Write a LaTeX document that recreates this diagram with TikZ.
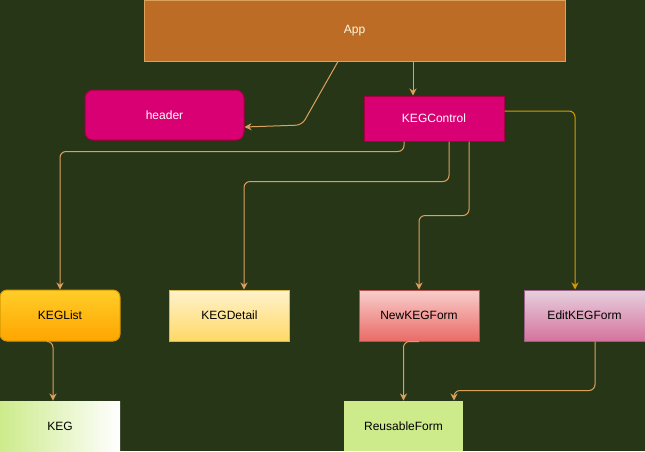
\documentclass[tikz,border=0pt]{standalone}
\usepackage{fontspec}
\setmainfont{Liberation Sans}
\usetikzlibrary{arrows.meta}

\definecolor{bg}{HTML}{283618}
\definecolor{appfill}{HTML}{BC6C25}
\definecolor{appline}{HTML}{DDA15E}
\definecolor{apptext}{HTML}{FEFAE0}
\definecolor{pinkfill}{HTML}{D80073}
\definecolor{pinkline}{HTML}{A50040}
\definecolor{linkcol}{HTML}{DDA15E}
\definecolor{goldcol}{HTML}{D79B00}
\definecolor{greenfill}{HTML}{CDEB8B}

\begin{document}
\begin{tikzpicture}[x=1pt, y=-1pt, line width=1pt, font=\fontsize{12}{14}\selectfont, box/.style={draw, inner sep=0pt, minimum width=120pt, minimum height=51pt}, pink node/.style={box, fill=pinkfill, draw=pinkline, text=white}, list node/.style={box, rounded corners=7pt, draw=goldcol, top color={rgb,255:red,255;green,205;blue,40}, bottom color={rgb,255:red,255;green,165;blue,0}}, detail node/.style={box, draw={rgb,255:red,214;green,182;blue,86}, top color={rgb,255:red,255;green,242;blue,204}, bottom color={rgb,255:red,255;green,217;blue,102}}, new node/.style={box, draw={rgb,255:red,184;green,84;blue,80}, top color={rgb,255:red,248;green,206;blue,204}, bottom color={rgb,255:red,234;green,107;blue,102}}, edit node/.style={box, minimum width=121pt, draw={rgb,255:red,153;green,97;blue,133}, top color={rgb,255:red,230;green,208;blue,222}, bottom color={rgb,255:red,213;green,115;blue,157}}, leaf node/.style={box, draw=none, minimum height=50pt}, link/.style={draw=linkcol, -{Stealth[length=7pt, width=7pt]}, rounded corners=6pt}]
\useasboundingbox (0,0) rectangle (645,451);
\fill[bg] (0,0) rectangle (645,451);
\node[box, fill=appfill, draw=appline, text=apptext, minimum width=421pt, minimum height=61pt] (App) at (354.5,30.5) {App};
\node[pink node, rounded corners=8pt, minimum width=159pt, minimum height=50pt] (header) at (164.5,115) {header};
\node[pink node, minimum width=140pt, minimum height=45pt] (KEGControl) at (434,118.5) {KEGControl};
\foreach \s/\x/\st in {KEGList/60/list node, KEGDetail/229.5/detail node, NewKEGForm/419/new node, EditKEGForm/584.5/edit node}{
    \node[\st] (\s) at (\x,315.5) {\s};}
\node[leaf node, left color=greenfill, right color=white] (KEG) at (60,426) {KEG};
\node[leaf node, fill=greenfill, minimum width=119pt] (ReusableForm) at (403.5,426) {ReusableForm};
% connectors
\draw[link] ([xshift=-16.5pt]App.south) -- (302,125) -- ([yshift=-12pt]header.east);
\draw[link] ([xshift=-21pt]KEGControl.north |- App.south) -- ([xshift=-21pt]KEGControl.north);
\draw[link] ([xshift=-30pt]KEGControl.south) -- ++(0,10) -| (KEGList.north);
\draw[link] ([xshift=15pt]KEGControl.south) -- ++(0,40) -| ([xshift=14.5pt]KEGDetail.north);
\draw[link] ([xshift=35pt]KEGControl.south) -- ++(0,74) -| (NewKEGForm.north);
\draw[link, draw=goldcol] ([yshift=7.5pt]KEGControl.east) -| ([xshift=-9.5pt]EditKEGForm.north);
\draw[link] ([xshift=-12pt]KEGList.south) -| ([xshift=-7pt]KEG.north);
\draw[link] (NewKEGForm.south) -| (ReusableForm.north);
\draw[link] ([xshift=10.5pt]EditKEGForm.south) -- ++(0,49) -| ([xshift=50.5pt]ReusableForm.north);
\end{tikzpicture}
\end{document}
